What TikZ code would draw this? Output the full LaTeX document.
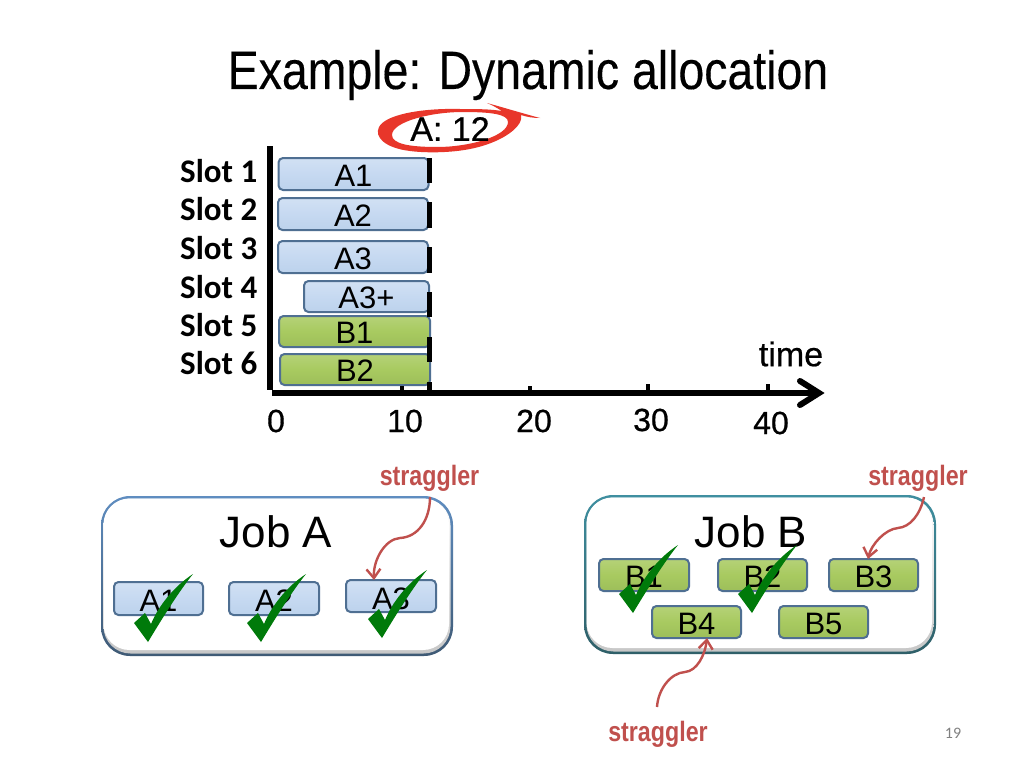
\documentclass[tikz,border=0pt]{standalone}
\usepackage{fontspec}
\setmainfont{Liberation Sans}
\newfontfamily\carlitofont{Carlito}
\newfontfamily\heavyfont[FakeBold=0.6]{Liberation Sans}
\newfontfamily\semifont[FakeBold=0.25]{Liberation Sans}
\usetikzlibrary{arrows.meta}
\definecolor{barblue}{HTML}{C6D9F1}
\definecolor{barblueb}{HTML}{BCD2EC}
\definecolor{bargreen}{HTML}{A8CA60}
\definecolor{bargreenb}{HTML}{9DBE5A}
\definecolor{barline}{HTML}{4F6F92}
\definecolor{redmark}{HTML}{C0504D}
\definecolor{circred}{HTML}{E8362A}
\definecolor{chk}{HTML}{007A0A}
\definecolor{frameAtop}{HTML}{5F8DC0}
\definecolor{frameAbot}{HTML}{3F5A75}
\definecolor{frameBtop}{HTML}{3F8FA0}
\definecolor{frameBbot}{HTML}{2F5F68}
\tikzset{
  x=1pt,y=-1pt,
  barbase/.style={draw=barline,line width=2pt,rounded corners=4.5pt,inner sep=0pt,font=\fontsize{31}{31}\selectfont,text depth=0pt,text height=24pt,align=center},
  bluebar/.style={barbase,top color=barblue!80!white,bottom color=barblueb,middle color=barblue},
  greenbar/.style={barbase,top color=bargreen!85!white,bottom color=bargreenb,middle color=bargreen},
  slotlabel/.style={anchor=west,inner sep=0pt,font=\carlitofont\bfseries\fontsize{33}{33}\selectfont},
  ticklabel/.style={inner sep=0pt,font=\heavyfont\fontsize{32}{32}\selectfont},
  joblabel/.style={inner sep=0pt,font=\fontsize{44}{44}\selectfont},
  stragglerlabel/.style={inner sep=0pt,text=redmark,font=\bfseries\fontsize{28}{28}\selectfont},
  endmark/.style={line width=5pt,black},
  tickmark/.style={line width=4.5pt,black},
  stragarrow/.style={draw=redmark,line width=2.4pt,-{Straight Barb[length=9pt,width=14pt,line width=2.4pt]}},
}
\newcommand{\checkmk}[2]{%
  \fill[chk,shift={(#1,#2)}] (0,0) -- (-14,-19) -- (-3,-29) -- (3,-18)
    .. controls (10,-35) and (25,-55) .. (45,-68)
    .. controls (32,-52) and (15,-25) .. cycle;}
\newcommand{\jobframe}[6]{% x1 y1 x2 y2 top bottom
  \shade[rounded corners=29pt,top color=#5,bottom color=#6] (#1,#2) rectangle (#3,#4);
  \shade[rounded corners=27pt,top color=white,bottom color=black!22] (#1+2.5,#2+2.5) rectangle (#3-2.5,#4-2.5);
  \fill[white,rounded corners=26pt] (#1+2.5,#2+2.5) rectangle (#3-4,#4-6);}
\begin{document}
\begin{tikzpicture}
\useasboundingbox (0,0) rectangle (1024,768);
\fill[white] (0,0) rectangle (1024,768);
% title
\node[inner sep=0pt] (title) at (528,75) {\semifont\fontsize{54}{54}\selectfont\scalebox{0.86}[1]{Example: Dynamic allocation}};
% red circle
\fill[circred,even odd rule] (487,103) .. controls (505,108) and (525,114) .. (540,118)
  .. controls (533,118) and (527,117) .. (521,115)
  .. controls (524,125) and (505,142) .. (470,149)
  .. controls (450,153) and (425,153) .. (410,151)
  .. controls (385,148) and (374,137) .. (379,127)
  .. controls (385,115) and (420,108) .. (460,109)
  .. controls (475,109) and (490,109) .. (502,111)
  .. controls (497,108) and (492,105) .. (487,103) -- cycle
  (392,135) .. controls (392,122) and (430,112) .. (463,112)
  .. controls (490,112) and (508,114) .. (508,122)
  .. controls (508,136) and (470,147) .. (437,147)
  .. controls (410,147) and (392,144) .. (392,135) -- cycle;
\node[inner sep=0pt,font=\heavyfont\fontsize{34}{34}\selectfont] (alabel) at (450,129) {A: 12};
% slot labels
\node[slotlabel] (s1) at (180,171) {Slot 1};
\node[slotlabel] (s2) at (180,209) {Slot 2};
\node[slotlabel] (s3) at (180,248) {Slot 3};
\node[slotlabel] (s4) at (180,287) {Slot 4};
\node[slotlabel] (s5) at (180,325) {Slot 5};
\node[slotlabel] (s6) at (180,363) {Slot 6};
% bars
\node[bluebar,minimum width=150pt,minimum height=32pt] (barA1) at (353.5,174) {A1};
\node[bluebar,minimum width=150pt,minimum height=32pt] (barA2) at (353,214) {A2};
\node[bluebar,minimum width=150pt,minimum height=32pt] (barA3) at (353,257) {A3};
\node[bluebar,minimum width=125pt,minimum height=31pt] (barA4) at (366.5,296.5) {A3+};
\node[greenbar,minimum width=151pt,minimum height=31pt] (barB1) at (354.5,331.5) {B1};
\node[greenbar,minimum width=150pt,minimum height=31pt] (barB2) at (355,369.5) {B2};
% end marks
\draw[endmark] (429,158) -- (429,183);
\draw[endmark] (429,202) -- (429,228);
\draw[endmark] (429,247) -- (429,273);
\draw[endmark] (429,292) -- (429,317);
\draw[endmark] (429,337) -- (429,362);
\draw[endmark] (429,382) -- (429,391);
% axes
\draw[line width=6pt,black] (269.5,146) -- (269.5,390);
\draw[line width=6pt,black] (272,393) -- (816,393);
\draw[line width=6pt,black,line cap=round,miter limit=10] (800,381) -- (819,393) -- (800,405);
\draw[tickmark] (402,386) -- (402,391);
\draw[tickmark] (530,386) -- (530,391);
\draw[tickmark] (648,384) -- (648,391);
\draw[tickmark] (768,384) -- (768,391);
\node[ticklabel] (t0) at (276,421) {0};
\node[ticklabel] (t10) at (405,421) {10};
\node[ticklabel] (t20) at (534,421) {20};
\node[ticklabel] (t30) at (651,420) {30};
\node[ticklabel] (t40) at (771,423) {40};
\node[inner sep=0pt,font=\heavyfont\fontsize{34}{34}\selectfont] (timelabel) at (791,354) {time};
% job frames
\jobframe{101}{496}{453}{656}{frameAtop}{frameAbot}
\jobframe{584}{495}{936}{654}{frameBtop}{frameBbot}
\node[joblabel] (jobA) at (276,532) {Job A};
\node[joblabel] (jobB) at (751,532) {Job B};
% job A tasks
\node[bluebar,text height=26pt,minimum width=89pt,minimum height=33pt] (a1) at (158.5,598.5) {A1};
\node[bluebar,text height=26pt,minimum width=90pt,minimum height=33pt] (a2) at (274,598.5) {A2};
\node[bluebar,text height=26pt,minimum width=90pt,minimum height=32pt] (a3) at (391,596) {A3};
% job B tasks
\node[greenbar,minimum width=90pt,minimum height=32pt] (b1) at (644,575) {B1};
\node[greenbar,minimum width=89pt,minimum height=32pt] (b2) at (762.5,575) {B2};
\node[greenbar,minimum width=89pt,minimum height=32pt] (b3) at (873.5,575) {B3};
\node[greenbar,minimum width=89pt,minimum height=32pt] (b4) at (696.5,622) {B4};
\node[greenbar,minimum width=89pt,minimum height=32pt] (b5) at (823.5,622) {B5};
% checks
\checkmk{148}{642}
\checkmk{261}{642}
\checkmk{382}{638}
\checkmk{633}{613}
\checkmk{752}{613}
% stragglers
\node[stragglerlabel] (stA) at (429.5,478) {\scalebox{0.83}[1]{straggler}};
\node[stragglerlabel] (stB) at (918,478) {\scalebox{0.83}[1]{straggler}};
\node[stragglerlabel] (stC) at (658,734) {\scalebox{0.83}[1]{straggler}};
\coordinate (fromA) at (430,497);
\coordinate (fromB) at (924,497);
\coordinate (fromC) at (657,707);
\draw[stragarrow] (fromA) .. controls (430,520) and (418,537) .. (400,538)
  .. controls (385,539) and (373,560) .. ([xshift=-17pt,yshift=-1pt]a3.north);
\draw[stragarrow] (fromB) .. controls (920,515) and (910,527) .. (898,528)
  .. controls (885,529) and (871,545) .. ([xshift=-5.5pt,yshift=-1pt]b3.north);
\draw[stragarrow] (fromC) .. controls (658,690) and (670,673) .. (685,672)
  .. controls (697,671) and (705,655) .. ([xshift=10.5pt,yshift=1pt]b4.south);
% page number
\node[inner sep=0pt,text=black!50,font=\carlitofont\fontsize{16}{16}\selectfont] (pagenum) at (953,733) {19};
\end{tikzpicture}
\end{document}
